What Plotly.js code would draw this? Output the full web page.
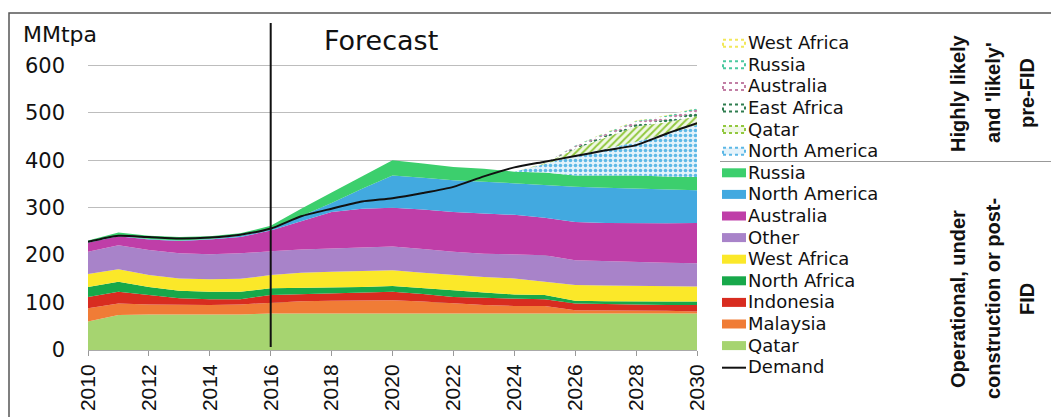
<!DOCTYPE html>
<html>
<head>
<meta charset="utf-8">
<script src="https://cdn.plot.ly/plotly-3.0.1.min.js"></script>
<style>
html,body{margin:0;padding:0;background:#fff;}
#chart{width:1051px;height:417px;}
</style>
</head>
<body>
<div id="chart"></div>
<script>
// ---------- data (MMtpa) ----------
const years = [2010,2011,2012,2013,2014,2015,2016,2017,2018,2019,2020,2021,2022,2023,2024,2025,2026,2027,2028,2029,2030];

// Operational, under construction or post-FID (stacked bottom -> top)
const qatar        = [60,74,75,75,75,75,77,77,77,77,77,77,77,77,77,77,77,77,77,77,77];
const malaysia     = [28,24,21,20,20,21,23,26,27,28,28,25,21,18,16,16,7,7,7,6,4];
const indonesia    = [24,25,20,14,12,11,16,15,15,16,18,16,14,15,15,14,14,13,11,12,14];
const northAfrica  = [21,21,17,16,16,16,14,13,12,12,12,13,14,11,9,9,6,6,7,7,7];
const westAfrica   = [27,26,25,26,26,27,28,32,34,34,33,32,32,33,34,28,33,33,33,32,32];
const other        = [47,51,53,53,53,54,50,49,49,49,50,50,49,49,51,56,52,51,51,50,49];
const australia    = [19,19,22,26,31,34,44,60,77,82,82,83,84,85,83,79,81,81,81,83,85];
const northAmerica = [1,1,1,1,1,3,2,10,19,42,68,67,67,67,66,68,74,74,73,71,69];
const russia       = [4,7,7,7,6,5,8,16,22,26,32,30,28,27,25,27,24,26,28,28,28];

// Highly likely and 'likely' pre-FID
const yearsPre          = [2024,2025,2026,2027,2028,2029,2030];
const northAmericaPre   = [0,18,42,56,71,90,110];
const qatarPre          = [0,2,14,24,32,24,18];
const eastAfricaPre     = [0,0,3,4,5,6,8];
const australiaPre      = [0,0,3,4,5,5,6];
const russiaPre         = [0,0,1,2,2,3,3];
const westAfricaPre     = [0,0,0,1,1,1,1];

const demand = [228,241,238,235,237,243,256,282,298,313,320,331,344,366,385,397,409,421,432,456,478];

const yTicks = [0,100,200,300,400,500,600];
const xTicks = [2010,2012,2014,2016,2018,2020,2022,2024,2026,2028,2030];

// ---------- series definitions ----------
const solid = [
  {name:'Qatar',         y:qatar,        color:'#a6d470'},
  {name:'Malaysia',      y:malaysia,     color:'#f07c36'},
  {name:'Indonesia',     y:indonesia,    color:'#d82c20'},
  {name:'North Africa',  y:northAfrica,  color:'#17a84a'},
  {name:'West Africa',   y:westAfrica,   color:'#fbe829'},
  {name:'Other',         y:other,        color:'#a883c9'},
  {name:'Australia',     y:australia,    color:'#bf3ea8'},
  {name:'North America', y:northAmerica, color:'#42a9e0'},
  {name:'Russia',        y:russia,       color:'#3ccf6d'}
];
const pre = [
  {name:'North America', y:northAmericaPre, color:'#5cb8e6', shape:'.', bg:'#e4f3fb'},
  {name:'Qatar',         y:qatarPre,        color:'#92c83e', shape:'/', bg:'#f1f8e6'},
  {name:'East Africa',   y:eastAfricaPre,   color:'#2e7d4f', shape:'.', bg:'#ffffff'},
  {name:'Australia',     y:australiaPre,    color:'#c27fa5', shape:'.', bg:'#ffffff'},
  {name:'Russia',        y:russiaPre,       color:'#4cc9a0', shape:'.', bg:'#ffffff'},
  {name:'West Africa',   y:westAfricaPre,   color:'#f2e85a', shape:'.', bg:'#ffffff'}
];

const traces = [];
solid.forEach(s => traces.push({
  type:'scatter', mode:'lines', x:years, y:s.y, name:s.name,
  stackgroup:'supply', line:{width:0, color:s.color}, fillcolor:s.color,
  showlegend:false, hoverinfo:'x+y+name'
}));
pre.forEach(s => traces.push({
  type:'scatter', mode:'lines', x:yearsPre, y:s.y, name:s.name + ' (pre-FID)',
  stackgroup:'supply', line:{width:0, color:s.color}, fillcolor:s.bg,
  fillpattern:{shape:s.shape, fgcolor:s.color, bgcolor:s.bg, size:5, solidity:0.4},
  showlegend:false
}));
traces.push({
  type:'scatter', mode:'lines', x:years, y:demand, name:'Demand',
  line:{color:'#111', width:2, shape:'spline', smoothing:0.6}, showlegend:false
});

// ---------- geometry helpers (pixel -> paper) ----------
const M = {l:88, r:354, t:18, b:67};
const W = 1051, H = 417;
const PW = W - M.l - M.r, PH = H - M.t - M.b;
const px = v => (v - M.l) / PW;
const py = v => (H - M.b - v) / PH;

const shapes = [];
const annotations = [];

// outer frame
shapes.push({type:'rect', xref:'paper', yref:'paper', x0:px(9), x1:px(1070), y0:py(13), y1:py(440),
  line:{color:'#555', width:1.5}, fillcolor:'rgba(0,0,0,0)', layer:'below'});
// forecast divider
shapes.push({type:'line', xref:'x', yref:'paper', x0:2016, x1:2016, y0:py(347), y1:py(23),
  line:{color:'#111', width:2}});
// legend separator
shapes.push({type:'line', xref:'paper', yref:'paper', x0:px(720), x1:px(1060), y0:py(161.5), y1:py(161.5),
  line:{color:'#999', width:1}});

// manual legend
const legendRows = [];
pre.slice().reverse().forEach(s => legendRows.push({name:s.name, color:s.color, bg:s.bg, kind:'pre'}));
solid.slice().reverse().forEach(s => legendRows.push({name:s.name, color:s.color, kind:'solid'}));
legendRows.push({name:'Demand', color:'#111', kind:'line'});

legendRows.forEach((r, i) => {
  const yc = 42.7 + 21.6 * i;
  if (r.kind === 'solid') {
    shapes.push({type:'rect', xref:'paper', yref:'paper', x0:px(722), x1:px(746), y0:py(yc+5), y1:py(yc-4),
      fillcolor:r.color, line:{width:0}});
  } else if (r.kind === 'pre') {
    shapes.push({type:'rect', xref:'paper', yref:'paper', x0:px(723), x1:px(745), y0:py(yc+4), y1:py(yc-3),
      fillcolor:r.bg, line:{color:r.color, width:2, dash:'dot'}});
  } else {
    shapes.push({type:'line', xref:'paper', yref:'paper', x0:px(722), x1:px(746), y0:py(yc+1), y1:py(yc+1),
      line:{color:r.color, width:2}});
  }
  annotations.push({xref:'paper', yref:'paper', x:px(747), y:py(yc), xanchor:'left', yanchor:'middle',
    text:r.name, showarrow:false, borderpad:0, font:{family:'DejaVu Sans', size:18, color:'#111'}});
});

// group labels (rotated)
const grp1 = ['Highly likely', "and 'likely'", 'pre-FID'];
const grp2 = ['Operational, under', 'construction or post-', 'FID'];
const colX = [958, 993, 1027];
grp1.forEach((t, i) => annotations.push({xref:'paper', yref:'paper', x:px(colX[i]), y:py(93),
  xanchor:'center', yanchor:'middle', textangle:-90, text:'<b>'+t+'</b>', showarrow:false,
  font:{family:'Liberation Sans', size:20, color:'#111'}}));
grp2.forEach((t, i) => annotations.push({xref:'paper', yref:'paper', x:px(colX[i]), y:py(299),
  xanchor:'center', yanchor:'middle', textangle:-90, text:'<b>'+t+'</b>', showarrow:false,
  font:{family:'Liberation Sans', size:20, color:'#111'}}));

annotations.push({xref:'paper', yref:'paper', x:px(21), y:py(35), xanchor:'left', yanchor:'middle',
  text:'MMtpa', showarrow:false, font:{family:'DejaVu Sans', size:22, color:'#111'}});
annotations.push({xref:'paper', yref:'paper', x:px(322), y:py(40), xanchor:'left', yanchor:'middle',
  text:'Forecast', showarrow:false, font:{family:'DejaVu Sans', size:27, color:'#111'}});

const layout = {
  width:W, height:H,
  margin:M,
  paper_bgcolor:'#fff', plot_bgcolor:'#fff',
  showlegend:false,
  xaxis:{range:[2010,2030], tickvals:xTicks, ticktext:xTicks.map(String), tickangle:-90,
    ticks:'outside', ticklen:5, tickcolor:'#999', showline:true, linecolor:'#aaa', linewidth:1,
    showgrid:false, zeroline:false,
    tickfont:{family:'Liberation Sans', size:21, color:'#111'}},
  yaxis:{range:[0,700], tickvals:yTicks, ticktext:yTicks.map(String), ticks:'',
    showgrid:true, gridcolor:'#bdbdbd', gridwidth:1, zeroline:false, showline:false,
    ticklabelstandoff:22,
    tickfont:{family:'DejaVu Sans', size:21, color:'#111'}},
  shapes:shapes,
  annotations:annotations
};

Plotly.newPlot('chart', traces, layout, {staticPlot:true, displayModeBar:false});
</script>
</body>
</html>
